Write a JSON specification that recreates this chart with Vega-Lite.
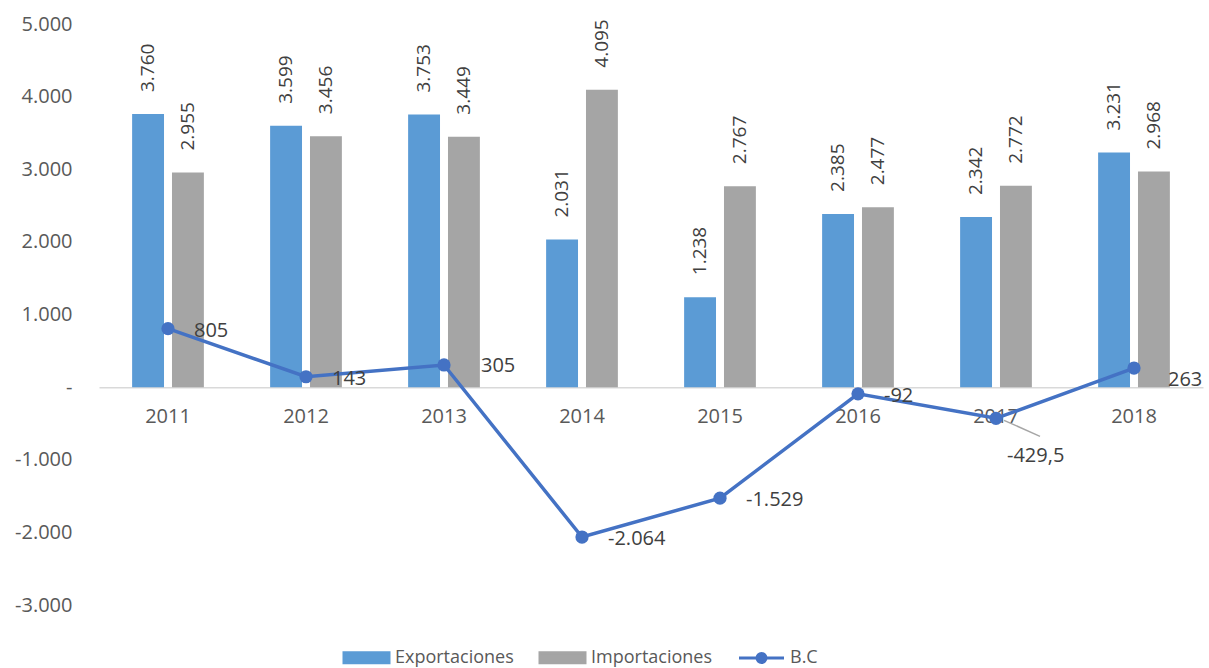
{
  "$schema": "https://vega.github.io/schema/vega-lite/v6.json",
  "autosize": "none",
  "padding": {"left": 99, "top": 24, "right": 6, "bottom": 63},
  "width": 1104,
  "height": 581,
  "background": "white",
  "config": {
    "view": {"stroke": null},
    "font": "Open Sans",
    "axis": {"grid": false, "ticks": false, "labelFont": "Open Sans", "labelFontSize": 20, "labelColor": "#595959", "title": null}
  },
  "data": {
    "values": [
      {"Year": "2011", "Exportaciones": 3760, "Importaciones": 2955, "BC": 805},
      {"Year": "2012", "Exportaciones": 3599, "Importaciones": 3456, "BC": 143},
      {"Year": "2013", "Exportaciones": 3753, "Importaciones": 3449, "BC": 305},
      {"Year": "2014", "Exportaciones": 2031, "Importaciones": 4095, "BC": -2064},
      {"Year": "2015", "Exportaciones": 1238, "Importaciones": 2767, "BC": -1529},
      {"Year": "2016", "Exportaciones": 2385, "Importaciones": 2477, "BC": -92},
      {"Year": "2017", "Exportaciones": 2342, "Importaciones": 2772, "BC": -429.5},
      {"Year": "2018", "Exportaciones": 3231, "Importaciones": 2968, "BC": 263}
    ]
  },
  "encoding": {
    "x": {
      "field": "Year", "type": "nominal",
      "scale": {"paddingInner": 0.48, "paddingOuter": 0.24},
      "axis": {"offset": -217.875, "domainColor": "#D9D9D9", "domainWidth": 1.5, "labelPadding": 19, "labelAngle": 0}
    }
  },
  "layer": [
    {
      "transform": [
        {"fold": ["Exportaciones", "Importaciones"], "as": ["Serie", "Valor"]}
      ],
      "layer": [
        {
          "mark": {"type": "bar"},
          "encoding": {
            "xOffset": {"field": "Serie", "type": "nominal", "sort": ["Exportaciones", "Importaciones"], "scale": {"paddingInner": 0.2, "paddingOuter": 0}},
            "y": {
              "field": "Valor", "type": "quantitative",
              "scale": {"domain": [-3000, 5000], "nice": false, "zero": false},
              "axis": {
                "values": [-3000, -2000, -1000, 0, 1000, 2000, 3000, 4000, 5000],
                "domain": false, "labelPadding": 27, "labelFontSize": 20,
                "labelExpr": "datum.value == 0 ? '-\u00a0\u00a0\u00a0' : replace(replace(format(datum.value, ','), ',', '.'), '\u2212', '-')"
              }
            },
            "color": {
              "field": "Serie", "type": "nominal",
              "scale": {"domain": ["Exportaciones", "Importaciones", "B.C"], "range": ["#5B9BD5", "#A5A5A5", "#4472C4"]},
              "legend": {
                "title": null, "orient": "none", "legendX": 251, "legendY": 617, "direction": "horizontal",
                "labelFontSize": 18, "labelColor": "#595959", "labelFont": "Open Sans",
                "symbolSize": 900, "labelOffset": 12, "columnPadding": 20,
                "encode": {
                  "symbols": {
                    "update": {
                      "shape": {"signal": "datum.value === 'B.C' ? 'M-1.5,0H1.5M0.3,0A0.3,0.3 0 1,1 -0.3,0A0.3,0.3 0 1,1 0.3,0Z' : 'M-1.5,-0.33H1.5V0.33H-1.5Z'"},
                      "size": {"value": 900},
                      "fill": {"scale": "color", "field": "value"},
                      "stroke": {"signal": "datum.value === 'B.C' ? '#4472C4' : 'transparent'"},
                      "strokeWidth": {"value": 3},
                      "opacity": {"value": 1}
                    }
                  }
                }
              }
            }
          }
        },
        {
          "transform": [
            {"calculate": "replace(format(datum.Valor, ','), ',', '.')", "as": "lbl"}
          ],
          "mark": {"type": "text", "angle": 270, "align": "left", "baseline": "middle", "dx": 22, "fontSize": 19, "color": "#404040", "font": "Open Sans"},
          "encoding": {
            "xOffset": {"field": "Serie", "type": "nominal", "sort": ["Exportaciones", "Importaciones"], "scale": {"paddingInner": 0.2, "paddingOuter": 0}},
            "y": {"field": "Valor", "type": "quantitative"},
            "text": {"field": "lbl"}
          }
        }
      ]
    },
    {
      "mark": {"type": "line", "strokeWidth": 3.5, "point": {"size": 175, "filled": true}},
      "encoding": {
        "y": {"field": "BC", "type": "quantitative"},
        "color": {"datum": "B.C"}
      }
    },
    {
      "mark": {"type": "rule", "color": "#A6A6A6", "strokeWidth": 1.5, "xOffset": 8, "yOffset": 2, "x2Offset": 44, "y2Offset": 18},
      "transform": [{"filter": "datum.Year == '2017'"}],
      "encoding": {
        "y": {"field": "BC", "type": "quantitative"},
        "y2": {"field": "BC"},
        "x2": {"field": "Year"}
      }
    },
    {
      "transform": [
        {"calculate": "replace(replace(replace(replace(format(datum.BC, ','), ',', 'T'), '.', ','), 'T', '.'), '\u2212', '-')", "as": "lbl"}
      ],
      "encoding": {
        "y": {"field": "BC", "type": "quantitative"},
        "text": {"field": "lbl"}
      },
      "layer": [
        {
          "transform": [{"filter": "indexof(['2011','2012','2014','2015','2016'], datum.Year) >= 0"}],
          "mark": {"type": "text", "align": "left", "baseline": "middle", "dx": 26, "dy": 2, "fontSize": 20, "color": "#404040", "font": "Open Sans"}
        },
        {
          "transform": [{"filter": "datum.Year == '2013'"}],
          "mark": {"type": "text", "align": "left", "baseline": "middle", "dx": 37, "dy": 1, "fontSize": 20, "color": "#404040", "font": "Open Sans"}
        },
        {
          "transform": [{"filter": "datum.Year == '2017'"}],
          "mark": {"type": "text", "align": "left", "baseline": "middle", "dx": 11, "dy": 38, "fontSize": 20, "color": "#404040", "font": "Open Sans"}
        },
        {
          "transform": [{"filter": "datum.Year == '2018'"}],
          "mark": {"type": "text", "align": "left", "baseline": "middle", "dx": 34, "dy": 12, "fontSize": 20, "color": "#404040", "font": "Open Sans"}
        }
      ]
    }
  ]
}
